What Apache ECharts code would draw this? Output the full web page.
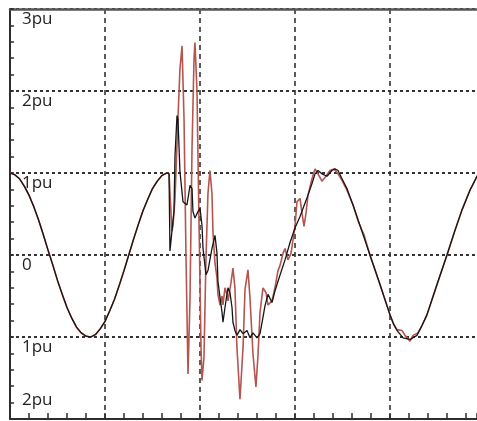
<!DOCTYPE html>
<html>
<head>
<meta charset="utf-8">
<script src="https://cdn.jsdelivr.net/npm/echarts@6/dist/echarts.min.js"></script>
<style>html,body{margin:0;padding:0;background:#fff;}#c{width:477px;height:421px;}</style>
</head>
<body>
<div id="c"></div>
<script>
// time in ms, voltage in pu
const preT = [0,0.5,1,1.5,2,2.5,3,3.5,4,4.5,5,5.5,6,6.5,7,7.5,8,8.5,9,9.5,10,10.5,11,11.5,12,12.5,13,13.5,14,14.5,15,15.5,16,16.5,16.74];
const preV = [1.00,0.98,0.93,0.84,0.73,0.59,0.43,0.25,0.06,-0.12,-0.31,-0.48,-0.64,-0.77,-0.88,-0.95,-0.99,-1.00,-0.97,-0.90,-0.81,-0.68,-0.54,-0.37,-0.19,0.00,0.19,0.37,0.54,0.68,0.81,0.90,0.97,1.00,0.99];

const blackT = [16.84,17.16,17.26,17.37,17.58,17.68,17.89,18.21,18.63,18.95,19.16,19.26,19.47,19.79,20.00,20.21,20.32,20.63,20.84,21.26,21.58,21.79,21.89,22.11,22.32,22.42,22.63,22.95,23.16,23.37,23.47,23.68,23.89,24.21,24.53,24.95,25.26,25.58,26.00,26.32,26.63,26.84,27.16,27.58,27.89,28.21,28.95,29.47,30.00,30.53,31.05,31.37,31.79,32.11,32.42,32.84,33.37,33.89,34.21,34.53,34.95,35.47,36.11,36.84,37.37,37.89,38.95,40.00,40.37,40.74,41.37,42.11,42.84,43.37,43.89,44.95,46.00,46.84,47.58,48.42,49.16,50.00];
const blackV = [0.05,0.42,0.53,1.21,1.70,1.66,1.02,0.65,0.61,0.85,0.81,0.53,0.45,0.53,0.57,0.36,0.08,-0.24,-0.19,0.08,0.24,0.02,-0.32,-0.52,-0.70,-0.82,-0.64,-0.40,-0.46,-0.64,-0.82,-0.92,-0.98,-0.91,-0.96,-0.92,-1.01,-0.95,-1.01,-0.96,-0.76,-0.62,-0.48,-0.58,-0.44,-0.32,-0.06,0.15,0.33,0.47,0.63,0.73,0.87,0.99,1.03,0.99,0.96,1.03,1.05,1.03,0.93,0.81,0.61,0.36,0.18,0.00,-0.36,-0.73,-0.84,-0.92,-1.01,-1.03,-0.98,-0.86,-0.73,-0.36,0.00,0.30,0.55,0.79,0.96,1.01];

const redT = [16.84,17.05,17.16,17.37,17.68,17.89,18.11,18.32,18.53,18.74,18.95,19.16,19.37,19.47,19.68,19.89,20.11,20.21,20.42,20.63,20.84,21.05,21.26,21.37,21.58,21.79,21.89,22.11,22.32,22.42,22.63,22.84,22.95,23.26,23.47,23.68,23.89,24.21,24.53,24.74,25.05,25.26,25.58,25.89,26.11,26.32,26.63,26.95,27.16,27.58,27.89,28.21,28.42,28.74,28.95,29.26,29.58,30.00,30.21,30.53,30.74,30.95,31.16,31.37,31.79,32.11,32.42,32.84,33.26,33.68,34.11,34.53,34.95,35.47,36.11,36.63,37.05,37.26,37.58,37.89,38.95,40.00,40.37,40.74,41.26,41.58,42.11,42.42,42.95,43.37,43.89,44.95,46.00,46.84,47.58,48.42,49.16,50.00];
const redV = [0.99,0.29,0.36,0.69,1.66,2.27,2.55,1.66,-0.04,-1.45,-0.52,1.30,2.39,2.59,2.02,0.45,-1.13,-1.53,-1.25,-0.04,0.75,1.03,0.75,0.27,-0.10,-0.28,-0.48,-0.61,-0.50,-0.61,-0.40,-0.48,-0.56,-0.34,-0.16,-0.40,-1.13,-1.76,-1.13,-0.42,-0.18,-0.52,-1.21,-1.61,-1.21,-0.70,-0.40,-0.46,-0.61,-0.56,-0.40,-0.19,-0.13,0.02,0.08,-0.06,0.02,0.35,0.65,0.69,0.51,0.35,0.51,0.73,0.93,1.05,0.99,0.90,0.96,1.03,1.05,0.99,0.91,0.79,0.61,0.42,0.30,0.25,0.12,0.00,-0.36,-0.73,-0.84,-0.91,-0.92,-0.98,-1.05,-0.98,-0.95,-0.86,-0.73,-0.36,0.00,0.30,0.55,0.79,0.96,1.01];

const yTickLabels = {'3':'3pu','2':'2pu','1':'1pu','0':'0','-1':'1pu','-2':'2pu'};

function pairs(t, v){ return t.map((x,i)=>[x, v[i]]); }
const preData = pairs(preT, preV);
const blackData = preData.concat(pairs(blackT, blackV));
const redData = preData.concat(pairs(redT, redV));

const chart = echarts.init(document.getElementById('c'), null, {renderer:'canvas'});
const axisColor = '#2e2e2e';
chart.setOption({
  animation: false,
  backgroundColor: '#ffffff',
  grid: {left: 10, right: 0, top: 9, bottom: 2, containLabel: false},
  xAxis: [{
    type: 'value', min: 0, max: 49.16, interval: 10, position: 'bottom',
    axisLine: {show: true, onZero: false, lineStyle: {color: axisColor, width: 2}},
    axisTick: {show: true, inside: true, length: 6, lineStyle: {color: axisColor, width: 1.5}},
    minorTick: {show: true, splitNumber: 5, length: 6, lineStyle: {color: axisColor, width: 1.5}},
    axisLabel: {show: false},
    splitLine: {show: true, showMaxLine: false, showMinLine: false, lineStyle: {color: '#333', width: 1.6, type: [5, 4]}}
  }, {
    type: 'value', min: 0, max: 49.16, position: 'top',
    axisLine: {show: true, onZero: false, lineStyle: {color: '#555', width: 2.5}},
    axisTick: {show: false}, axisLabel: {show: false}, splitLine: {show: false}
  }],
  yAxis: {
    type: 'value', min: -2, max: 3, interval: 1,
    axisLine: {show: true, onZero: false, lineStyle: {color: axisColor, width: 2}},
    axisTick: {show: true, inside: true, length: 4, lineStyle: {color: axisColor, width: 1.5}},
    minorTick: {show: true, splitNumber: 5, length: 4, lineStyle: {color: axisColor, width: 1.5}},
    axisLabel: {
      show: true, inside: true, margin: 12, verticalAlign: 'top', padding: [2, 0, 0, 0],
      showMinLabel: false,
      fontFamily: 'Open Sans', fontSize: 17, color: '#1e1e1e',
      formatter: v => yTickLabels[String(v)] || ''
    },
    splitLine: {show: true, lineStyle: {color: '#333', width: 2, type: [3, 3]}}
  },
  graphic: [{
    type: 'text', left: 22, top: 392, silent: true,
    style: {text: yTickLabels['-2'], font: '17px "Open Sans"', fill: '#1e1e1e'}
  }],
  series: [{
    type: 'line', data: redData, showSymbol: false, smooth: false,
    lineStyle: {color: '#b5554f', width: 1.6}, z: 3
  }, {
    type: 'line', data: blackData, showSymbol: false, smooth: false,
    lineStyle: {color: '#151515', width: 1.3}, z: 4
  }]
});
</script>
</body>
</html>
